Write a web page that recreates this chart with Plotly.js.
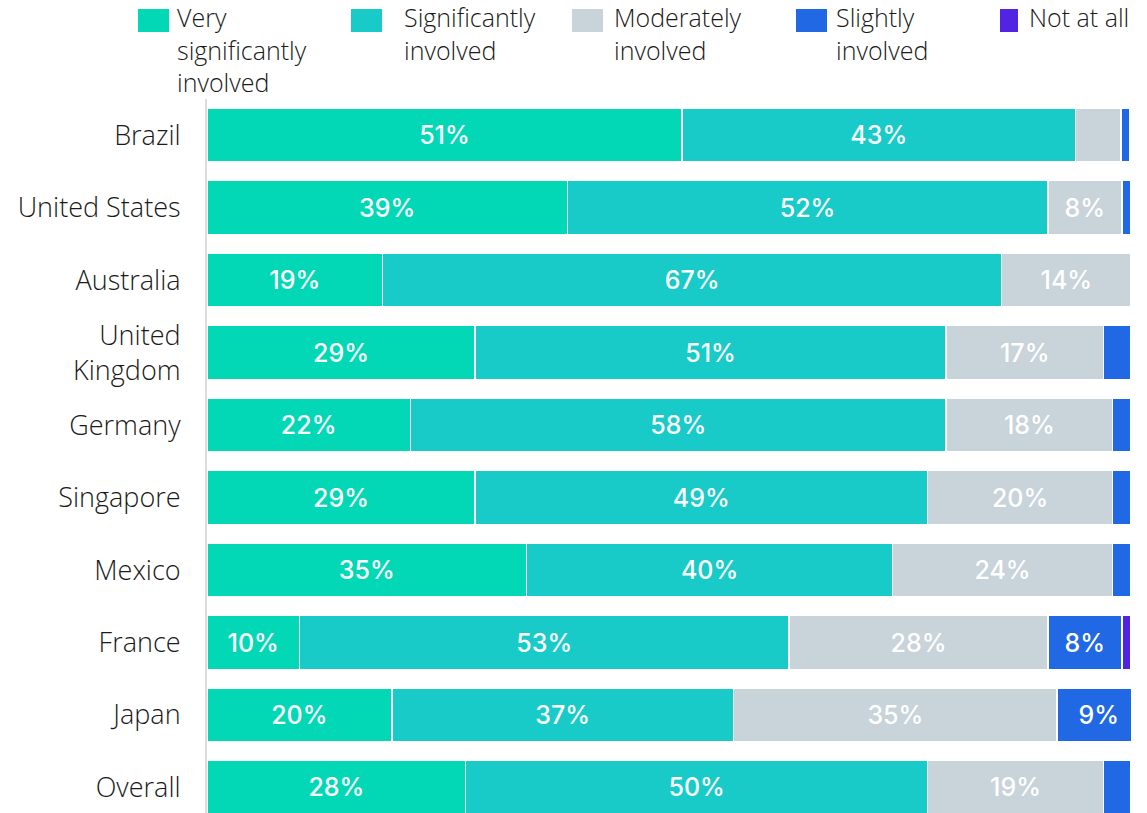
<!DOCTYPE html>
<html><head><meta charset="utf-8">
<script src="https://cdn.plot.ly/plotly-3.0.1.min.js"></script>
<style>body{margin:0;background:#fff}#chart{width:1147px;height:813px}</style>
</head><body><div id="chart"></div>
<script>
const countries = ['Brazil','United States','Australia','United<br>Kingdom','Germany','Singapore','Mexico','France','Japan','Overall'];
const seriesNames = ['Very<br>significantly<br>involved','Significantly<br>involved','Moderately<br>involved','Slightly<br>involved','Not at all'];
const verySignificantly = [51.4,39,19,29,22,29,34.6,10,20,28];
const significantly    = [42.6,52,67,51,58,49,39.6,53,37,50];
const moderately       = [4.9,8,14,17,18,20,23.8,28,35,19];
const slightly         = [1,1,0,3,2,2,2,8,9,3];
const notAtAll         = [0,0,0,0,0,0,0,1,0,0];

const seriesValues = [verySignificantly, significantly, moderately, slightly, notAtAll];
const colors = ['#03d8b6','#18cbc8','#c9d3da','#2068e4','#5024e2'];
const FONT = 'Open Sans';

const traces = seriesValues.map((vals,i)=>({
  type:'bar', orientation:'h', name:seriesNames[i],
  y:countries, x:vals,
  text: vals.map(v => v>=7.5 ? Math.round(v)+'%' : ''),
  texttemplate:'%{text}', textposition:'inside', insidetextanchor:'middle',
  textfont:{color:'#ffffff', size:25, family:'Inter', weight:500},
  marker:{color:colors[i], line:{color:'#ffffff', width:1.5}},
  hoverinfo:'x+y', showlegend:false
}));

// custom legend (large swatches)
const L = 207, W = 924, T = 813, H = 714;
const px = x => (x-L)/W, py = y => (T-y)/H;
const swX0 = [138, 351, 572, 796, 1000];
const swX1 = [169, 382, 603, 827, 1018];
const txtX = [175, 402, 612, 834, 1027];
const shapes = [], annotations = [];
seriesNames.forEach((n,i)=>{
  shapes.push({type:'rect', xref:'paper', yref:'paper', x0:px(swX0[i]), x1:px(swX1[i]), y0:py(32), y1:py(9), fillcolor:colors[i], line:{width:0}});
  annotations.push({xref:'paper', yref:'paper', x:px(txtX[i]), y:py(-2), xanchor:'left', yanchor:'top', align:'left', showarrow:false, text:n, font:{family:FONT, size:25, weight:300, color:'#1a1a1a'}});
});

const layout = {
  width:1147, height:813,
  margin:{l:207, r:16, t:99, b:0, pad:0},
  barmode:'stack', bargap:0.255,
  paper_bgcolor:'#ffffff', plot_bgcolor:'#ffffff',
  xaxis:{range:[0,100], showgrid:false, zeroline:false, showticklabels:false, showline:false, fixedrange:true},
  yaxis:{range:[9.352,-0.5], showgrid:false, zeroline:false, showline:true, linecolor:'#dcdcdc', linewidth:2,
         ticks:'', ticklabelstandoff:19, tickfont:{family:FONT, size:27, weight:300, color:'#1a1a1a'}},
  shapes:shapes, annotations:annotations,
  uniformtext:{mode:false}
};
Plotly.newPlot('chart', traces, layout, {displayModeBar:false, staticPlot:true});
</script></body></html>
